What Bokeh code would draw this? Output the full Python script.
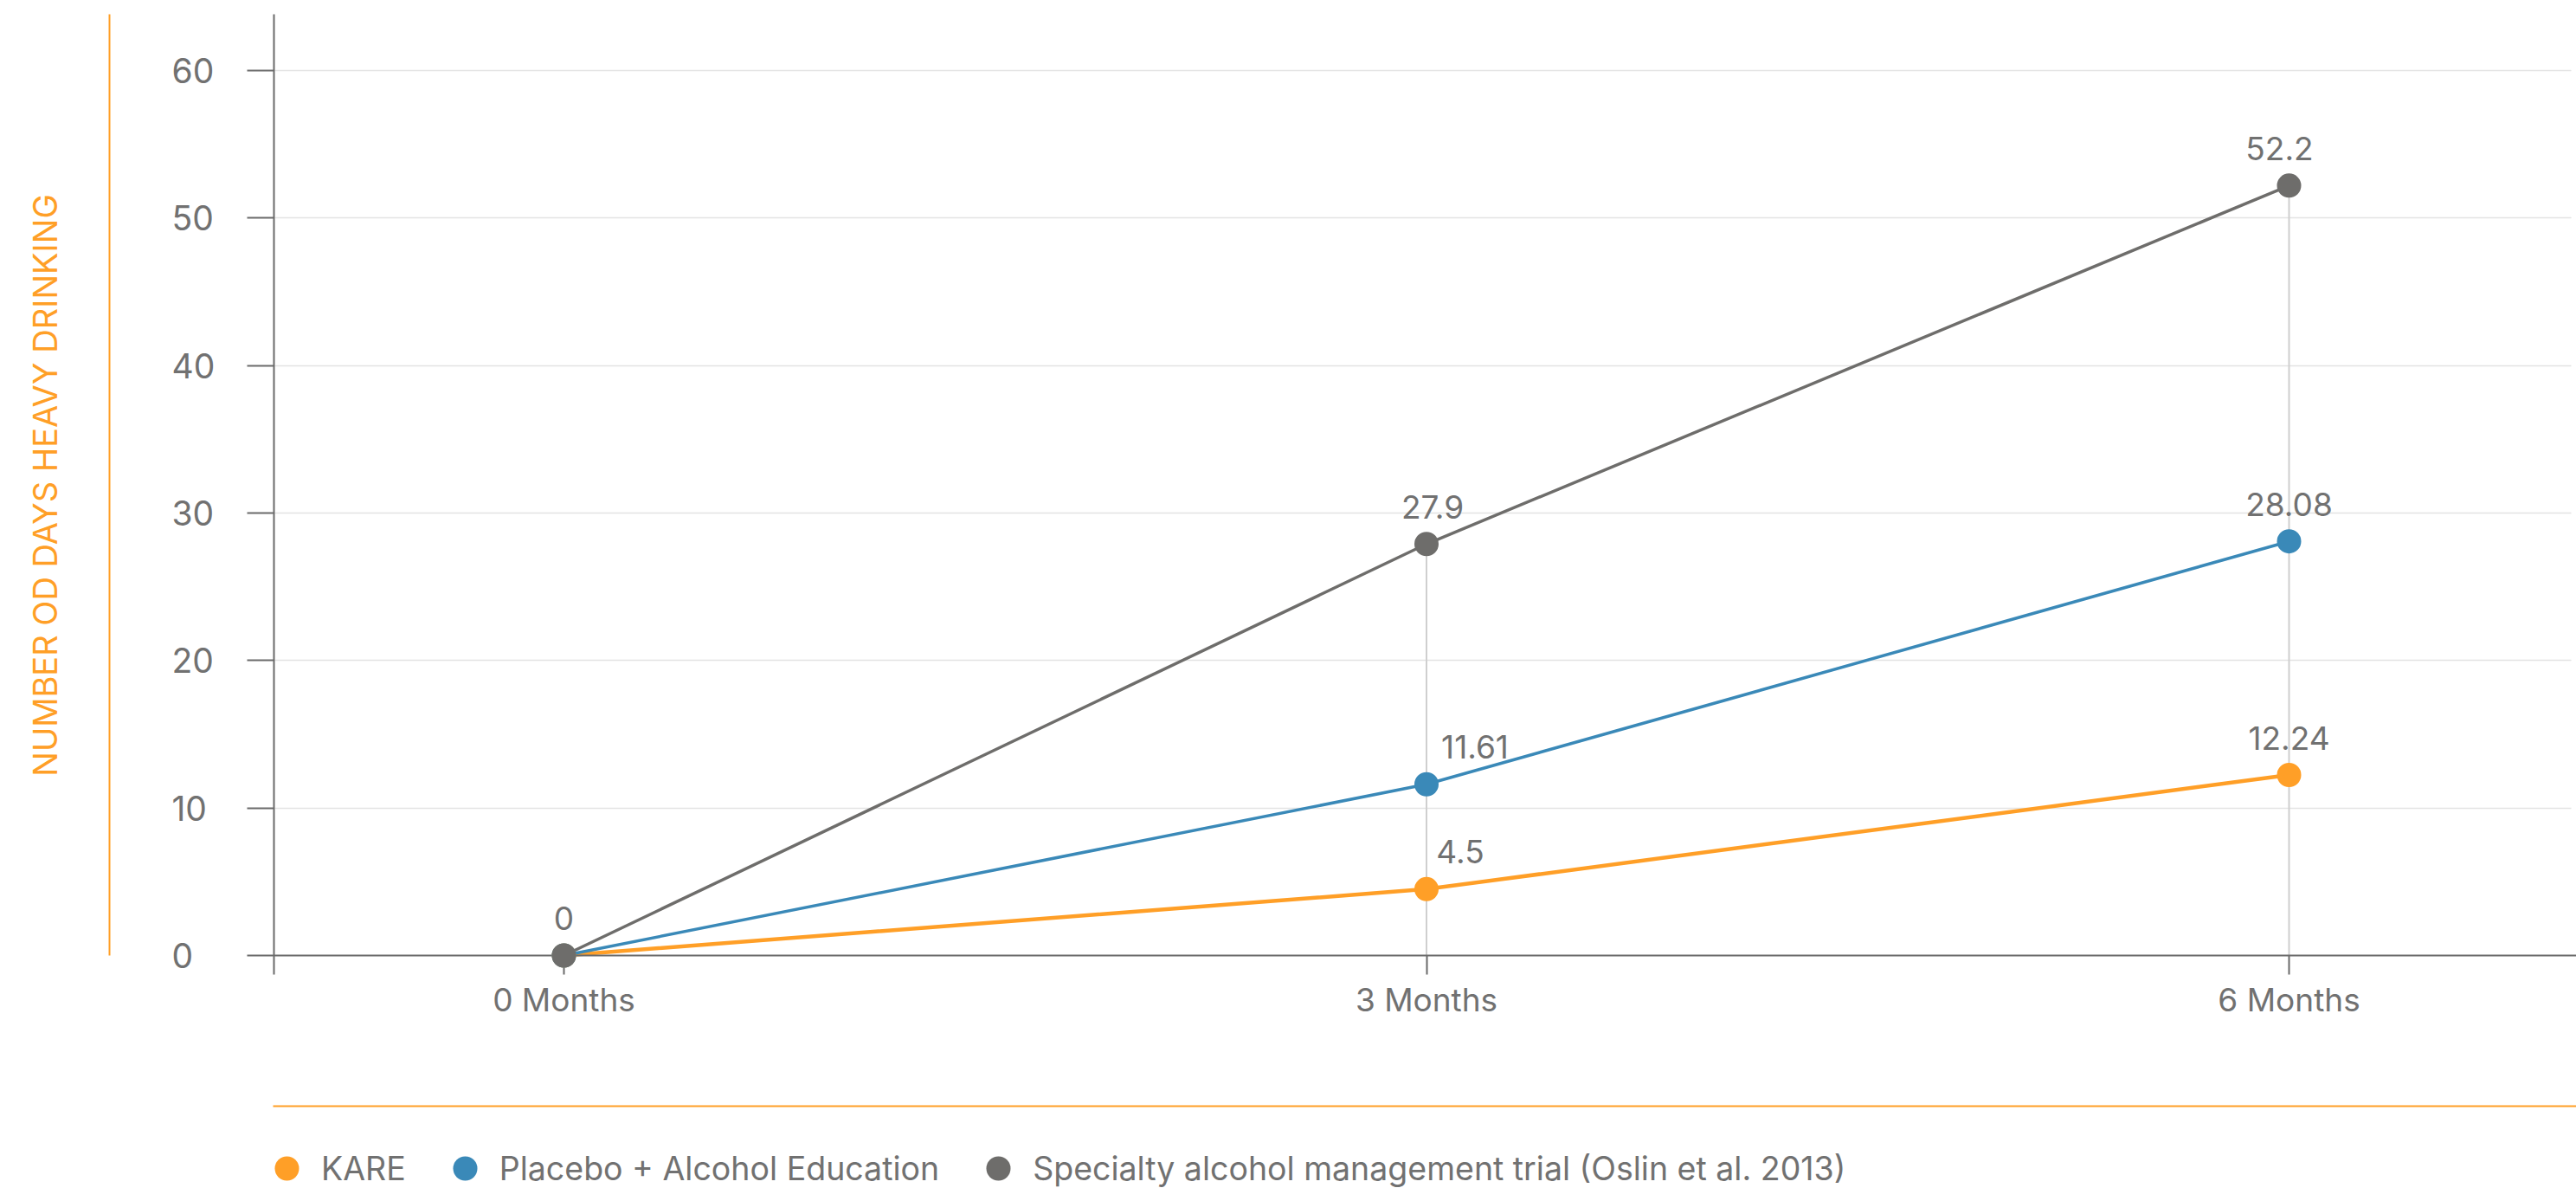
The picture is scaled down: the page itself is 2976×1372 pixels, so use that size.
from math import pi

from bokeh.core.properties import value
from bokeh.embed import file_html
from bokeh.models import (BoxAnnotation, ColumnDataSource, CustomJSTickFormatter,
                          FixedTicker, Label, Legend, LegendItem, Range1d)
from bokeh.plotting import figure
from bokeh.resources import INLINE

# --- data -------------------------------------------------------------------
months = [0, 3, 6]
month_labels = ["0 Months", "3 Months", "6 Months"]
kare = [0, 4.5, 12.24]
placebo = [0, 11.61, 28.08]
specialty = [0, 27.9, 52.2]
series_names = [
    "KARE",
    "Placebo + Alcohol Education",
    "Specialty alcohol management trial (Oslin et al. 2013)",
]
y_ticks = [0, 10, 20, 30, 40, 50, 60]
y_title = "NUMBER OD DAYS HEAVY DRINKING"

# --- styling ----------------------------------------------------------------
FONT = "Inter"
ORANGE = "#FF9F27"
BLUE = "#3A89B8"
GRAY = "#6E6D6B"
TEXT = "#717171"
AXIS = "#6B6B6B"
GRID = "#E3E3E3"
DROP = "#CFCFCF"

series = [kare, placebo, specialty]
colors = [ORANGE, BLUE, GRAY]
widths = [4.5, 3.5, 3.5]

# label nudges (screen px) for the value labels, per series / point
label_dx = {(1, 1): 56, (0, 1): 39, (2, 1): 7, (2, 2): -11}

# --- canvas geometry (the frame fills the whole canvas) ----------------------
W, H = 2976, 1372
PLOT_L, PLOT_R, PLOT_T, PLOT_B = 316, 2976, 16, 1125   # drawn plot box
X0_PX, X6_PX = 651, 2644      # screen x of first / last month
Y0_PX, Y60_PX = 1103, 81      # screen y of 0 and 60

x_scale = (X6_PX - X0_PX) / 6
y_scale = (Y0_PX - Y60_PX) / 60
x_start = -X0_PX / x_scale
x_end = 6 + (W - X6_PX) / x_scale
y_start = -(H - Y0_PX) / y_scale
y_end = 60 + Y60_PX / y_scale


def sx(px):
    return x_start + px / x_scale


def sy(py):
    return y_start + (H - py) / y_scale


p = figure(
    width=W, height=H,
    x_range=Range1d(x_start, x_end), y_range=Range1d(y_start, y_end),
    output_backend="svg", toolbar_location=None,
    min_border=0, outline_line_color=None,
    background_fill_color="white", border_fill_color="white",
)

# horizontal grid, limited to the plot box
p.xgrid.visible = False
p.ygrid.ticker = FixedTicker(ticks=y_ticks[1:])
p.ygrid.grid_line_color = GRID
p.ygrid.grid_line_width = 1.5
p.ygrid.bounds = (y_ticks[1], y_ticks[-1])
try:
    p.ygrid.cross_bounds = (sx(PLOT_L), sx(2970))
except AttributeError:
    p.ygrid.visible = False
    p.segment(x0=[sx(PLOT_L)] * 6, y0=y_ticks[1:], x1=[sx(2970)] * 6,
              y1=y_ticks[1:], line_color=GRID, line_width=1.5)

# x axis sits on the zero line
xa = p.xaxis[0]
xa.fixed_location = 0
xa.bounds = (sx(PLOT_L), x_end)
xa.ticker = FixedTicker(ticks=months)
xa.major_label_overrides = {m: lab for m, lab in zip(months, month_labels)}
xa.axis_line_color = AXIS
xa.axis_line_width = 2
xa.major_tick_line_color = AXIS
xa.major_tick_line_width = 2
xa.major_tick_out = 22
xa.major_tick_in = 0
xa.minor_tick_line_color = None
xa.major_label_text_font = FONT
xa.major_label_text_font_size = "37px"
xa.major_label_text_color = TEXT
xa.major_label_standoff = 6

# y axis: line and ticks; its labels are set left-aligned below
ya = p.yaxis[0]
ya.fixed_location = sx(PLOT_L)
ya.bounds = (sy(PLOT_B), sy(PLOT_T))
ya.ticker = FixedTicker(ticks=y_ticks)
ya.formatter = CustomJSTickFormatter(code="return ''")
ya.axis_line_color = AXIS
ya.axis_line_width = 2
ya.major_tick_line_color = AXIS
ya.major_tick_line_width = 2
ya.major_tick_out = 31
ya.major_tick_in = 0
ya.minor_tick_line_color = None

for t in y_ticks:
    p.add_layout(Label(
        x=sx(198), y=t, text=str(t), text_align="left", text_baseline="middle",
        text_font=FONT, text_font_size="39px", text_color=TEXT,
    ))

# y axis title and its rule
p.add_layout(Label(
    x=sx(51), y=sy(560), text=y_title, angle=pi / 2,
    text_align="center", text_baseline="middle",
    text_font=FONT, text_font_size="38px", text_color=ORANGE,
))
p.add_layout(BoxAnnotation(
    left=sx(125), right=sx(127), bottom=0, top=sy(PLOT_T),
    fill_color=ORANGE, fill_alpha=1, line_color=None, level="underlay",
))
# rule above the legend
p.add_layout(BoxAnnotation(
    left=sx(315), right=x_end, bottom=sy(1278), top=sy(1276),
    fill_color=ORANGE, fill_alpha=1, line_color=None, level="underlay",
))

# drop lines from the highest value of each month
tops = [max(s[i] for s in series) for i in range(len(months))]
p.segment(x0=months, y0=[0] * len(months), x1=months, y1=tops,
          line_color=DROP, line_width=2)

# series lines and points
dots = []
for vals, c, w in zip(series, colors, widths):
    p.line(months, vals, line_color=c, line_width=w)
for vals, c in zip(series, colors):
    r = p.scatter(months, vals, marker="circle", size=28,
                  fill_color=c, line_color=None)
    r.level = "overlay"
    dots.append(r)

# value labels
lx, ly, lt, ldx = [], [], [], []
for si, vals in enumerate(series):
    for pi_, (m, v) in enumerate(zip(months, vals)):
        if v == 0 and si != len(series) - 1:
            continue
        lx.append(m)
        ly.append(v)
        lt.append(f"{v:g}")
        ldx.append(label_dx.get((si, pi_), 0))
src = ColumnDataSource(dict(x=lx, y=ly, text=lt, dx=ldx))
p.text(x="x", y="y", text="text", x_offset="dx", y_offset=-43, source=src,
       text_align="center", text_baseline="alphabetic",
       text_font=value(FONT), text_font_size="37px", text_color=TEXT)

# legend
legend = Legend(
    items=[LegendItem(label=n, renderers=[r]) for n, r in zip(series_names, dots)],
    orientation="horizontal",
    location=(296, H - 1384),
    glyph_width=70, glyph_height=70, label_standoff=5, spacing=33,
    padding=0, margin=0, border_line_color=None, background_fill_alpha=0,
    label_text_font=FONT, label_text_font_size="37.5px", label_text_color=TEXT,
)
p.add_layout(legend)

open("out.html", "w").write(file_html(p, INLINE))
